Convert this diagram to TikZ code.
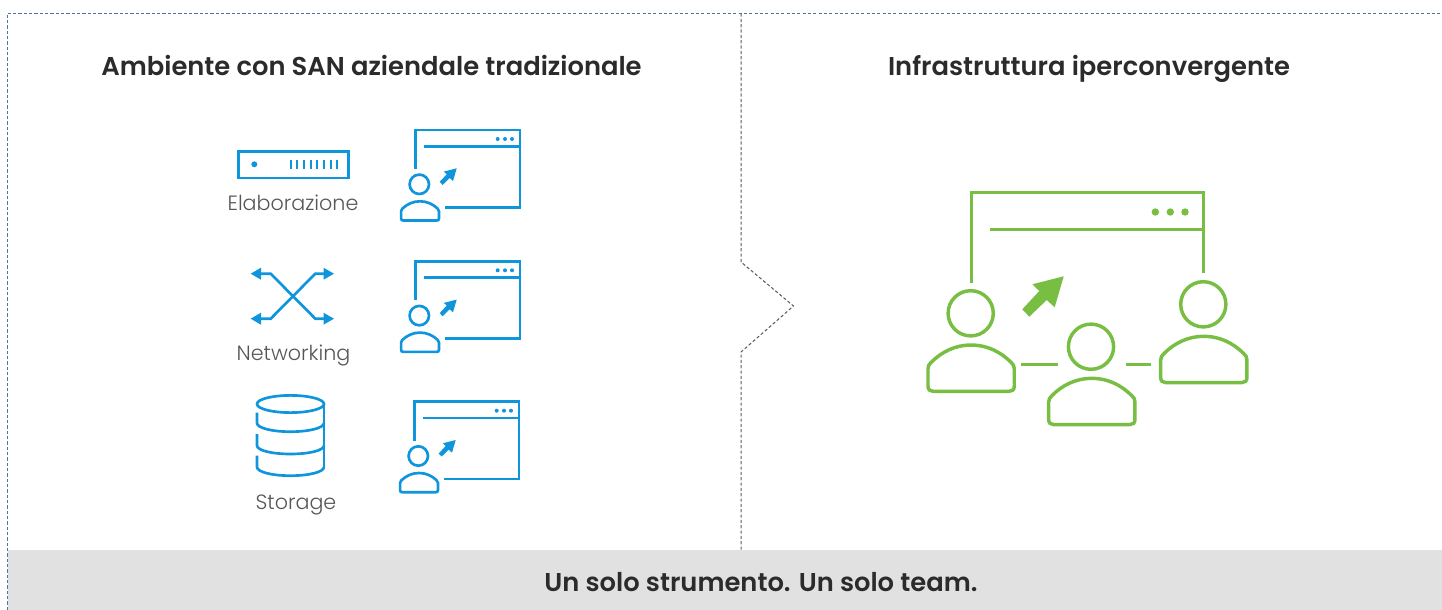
\documentclass[tikz,border=0pt]{standalone}
\usepackage{fontspec}
\setmainfont{Poppins}[UprightFont=* Light,BoldFont=* SemiBold]
\definecolor{vblue}{HTML}{0F95DC}
\definecolor{vgreen}{HTML}{78BE43}
\definecolor{band}{HTML}{E1E1E1}
\definecolor{txtdark}{HTML}{2B2B2B}
\definecolor{txtgray}{HTML}{565656}
\definecolor{frameblue}{HTML}{4F70A8}
\definecolor{framegray}{HTML}{5A5A5A}
\newcommand{\personshape}{% unit box: width 88, height 48.7, origin at top-left of the body
  (0,25) .. controls (0,22) and (1,20.5) .. (3,18.5)
  .. controls (14,7) and (28,0) .. (44,0)
  .. controls (60,0) and (74,7) .. (85,18.5)
  .. controls (87,20.5) and (88,22) .. (88,25) -- (88,43.5)
  .. controls (88,47) and (86,48.7) .. (83,48.7) -- (5,48.7)
  .. controls (2,48.7) and (0,47) .. (0,43.5) -- cycle}
\tikzset{
  x=0.75pt,y=-0.75pt,
  iconline/.style={draw=vblue,line width=2pt,line cap=butt},
  greenline/.style={draw=vgreen,line width=2.6pt,line cap=butt},
  titletext/.style={font=\fontsize{19.35pt}{22pt}\selectfont\bfseries,text=txtdark,inner sep=0pt,anchor=base},
  labeltext/.style={font=\fontsize{15.5pt}{18pt}\selectfont,text=txtgray,inner sep=0pt,anchor=base},
  frameline/.style={draw=frameblue,line width=0.75pt,dash pattern=on 2.4pt off 1.6pt},
  midline/.style={draw=framegray,line width=0.75pt,dash pattern=on 2.4pt off 1.6pt},
  userwindow/.pic={
    \draw[iconline] (0,39) -- (0,0) -- (104.3,0) -- (104.3,77.3) -- (29.3,77.3);
    \draw[iconline] (8.3,16.3) -- (104.3,16.3);
    \fill[vblue] (82,9) circle (2) (89.3,9) circle (2) (96.3,9) circle (2);
    \draw[iconline] (3.6,54.3) circle (9.7);
    \begin{scope}[shift={(-14.6,71.3)},xscale=0.43,yscale=0.395]
      \draw[draw=vblue,line width=2pt] \personshape;
    \end{scope}
    \fill[vblue] (41,38.3) -- (28.1,41.6) -- (31,44.3) -- (24,51.8) -- (26.9,54.9) -- (34,48) -- (37.3,51) -- cycle;
  },
  bigperson/.pic={
    \begin{scope}[xscale=0.98,yscale=0.95]
    \draw[greenline] \personshape;
    \end{scope}
  }
}
\begin{document}
\begin{tikzpicture}
\useasboundingbox (0,0) rectangle (1442,610);
% band
\fill[band] (8,550) rectangle (1442,610);
% frame
\draw[frameline] (7,610) -- (7,13.5) -- (1442,13.5);
\draw[midline] (741,13.5) -- (741,262) -- (793.5,306) -- (741,352) -- (741,550);
% titles
\node[titletext] (titleleft) at (371.5,76) {Ambiente con SAN aziendale tradizionale};
\node[titletext] (titleright) at (1089,76) {Infrastruttura iperconvergente};
\node[titletext] (bandtext) at (761,591.5) {Un solo strumento. Un solo team.};
% labels
\node[labeltext] (lab1) at (293,210) {Elaborazione};
\node[labeltext] (lab2) at (293.5,360) {Networking};
\node[labeltext] (lab3) at (296,509) {Storage};
% user windows
\pic at (415.7,130) {userwindow};
\pic at (415.7,261.3) {userwindow};
\pic at (414.7,401.7) {userwindow};
% server
\draw[iconline] (238.3,151.7) rectangle (348.3,178);
\fill[vblue] (254.3,164.3) circle (3);
\foreach \i in {0,...,7} \draw[draw=vblue,line width=1.5pt] ({290.7+\i*6.67},160) -- ({290.7+\i*6.67},169.3);
% cross
\draw[iconline] (260,273.7) -- (270.7,273.7) -- (315.3,318.7) -- (324,318.7);
\draw[iconline] (260,318.7) -- (270.7,318.7) -- (315.3,273.7) -- (324,273.7);
\fill[vblue] (250.7,273.7) -- (261,267.7) -- (261,279.7) -- cycle
  (250.7,318.7) -- (261,312.7) -- (261,324.7) -- cycle
  (334,273.7) -- (323.5,267.7) -- (323.5,279.7) -- cycle
  (334,318.7) -- (323.5,312.7) -- (323.5,324.7) -- cycle;
% cylinder
\draw[iconline] (290.5,404) ellipse (33.5 and 8.6);
\draw[iconline] (324,404) -- (324,467);
\draw[iconline] (257,412.7) -- (257,423) .. controls (257,428) and (272,431.7) .. (290.5,431.7) .. controls (309,431.7) and (324,428) .. (324,423);
\draw[iconline] (257,434) -- (257,445.5) .. controls (257,450.5) and (272,454) .. (290.5,454) .. controls (309,454) and (324,450.5) .. (324,445.5);
\draw[iconline] (257,455.7) -- (257,467) .. controls (257,472) and (272,475.7) .. (290.5,475.7) .. controls (309,475.7) and (324,472) .. (324,467);
% green window
\draw[greenline] (971.3,282.7) -- (971.3,192.3) -- (1203.7,192.3) -- (1203.7,272.7);
\draw[greenline] (990,229.7) -- (1203.7,229.7);
\fill[vgreen] (1155.3,212) circle (3.7) (1170.3,212) circle (3.7) (1185,212) circle (3.7);
% green persons
\draw[greenline] (970.7,313.3) circle (22.6);
\draw[greenline] (1091,346.7) circle (22.6);
\draw[greenline] (1203.3,304.3) circle (22.6);
\pic at (928,345) {bigperson};
\pic at (1048.7,378.3) {bigperson};
\pic at (1160.7,336.3) {bigperson};
\draw[greenline] (1021,364.3) -- (1058,364.3);
\draw[greenline] (1126,364.3) -- (1150.7,364.3);
% green arrow
\fill[vgreen] (1063.7,276.3) -- (1032.3,284.3) -- (1039.3,291) -- (1022.3,309.3) -- (1029.3,316.7) -- (1046.7,300) -- (1054.7,307.3) -- cycle;
\end{tikzpicture}
\end{document}
